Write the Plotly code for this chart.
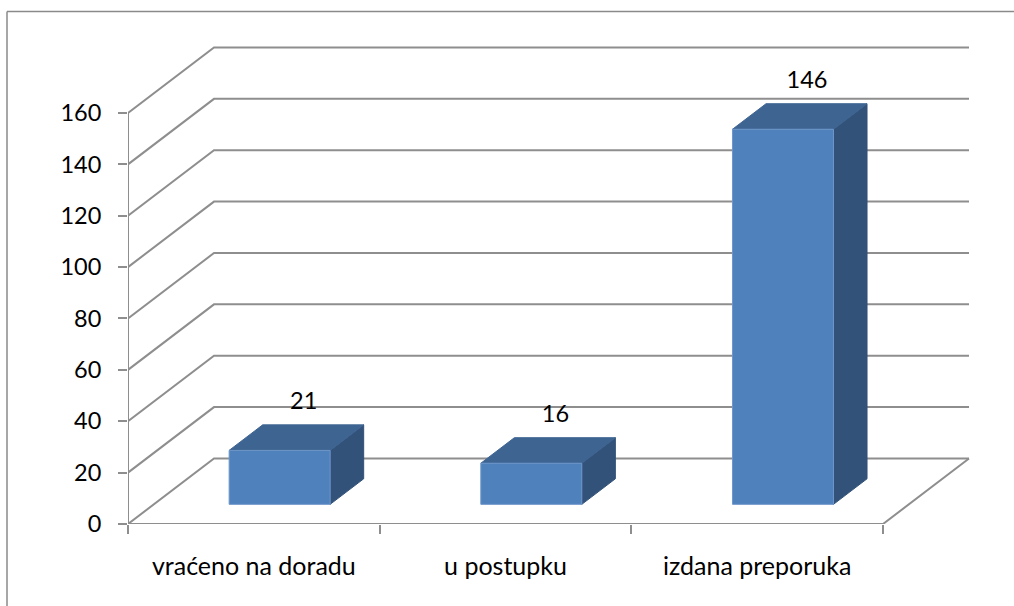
import plotly.graph_objects as go

categories = ["vraćeno na doradu", "u postupku", "izdana preporuka"]
values = [21, 16, 146]
y_ticks = [0, 20, 40, 60, 80, 100, 120, 140, 160]

FONT = "Lato"
FONT_SIZE = 23.5
CAT_FONT_SIZE = 25
GRID = "#8e8e8e"
TEXT = "#000000"
FRONT = "#4f81bd"
TOP = "#3e6492"
SIDE = "#325279"

# Pixel geometry of the plotting rectangle
W, H = 1014, 606
LEFT, BOTTOM = 128, 82
PX_CAT = 251.67
PX_UNIT = 2.569
x_max = (W - LEFT) / PX_CAT
y_max = (H - BOTTOM) / PX_UNIT

# Oblique projection: how far the full chart depth shifts a point
DEPTH_X = 86 / PX_CAT
DEPTH_Y = 65.5 / PX_UNIT
BAR_W = 101 / PX_CAT
BAR_NEAR = 0.30
BAR_FAR = 0.69
LABEL_DEPTH = 0.58
LABEL_LIFT = 8.4


def project(x, v, d):
    return x + d * DEPTH_X, v + d * DEPTH_Y


def poly(points, color, edge=None):
    xs = [p[0] for p in points] + [points[0][0]]
    ys = [p[1] for p in points] + [points[0][1]]
    return go.Scatter(x=xs, y=ys, mode="lines", fill="toself", fillcolor=color,
                      line=dict(color=edge or color, width=1), hoverinfo="skip",
                      showlegend=False, cliponaxis=False)


def line(xs, ys, width=2):
    return go.Scatter(x=xs, y=ys, mode="lines", line=dict(color=GRID, width=width),
                      hoverinfo="skip", showlegend=False, cliponaxis=False)


fig = go.Figure()
n = len(categories)

# Gridlines on the side and back walls
for v in y_ticks:
    bx, by = project(0, v, 1)
    fig.add_trace(line([0, bx, n + DEPTH_X], [v, by, by]))

# Floor outline and value axis
fig.add_trace(line([0, n, n + DEPTH_X], [0, 0, DEPTH_Y]))
fig.add_trace(line([0, 0], [0, y_ticks[-1]]))

# Bars
for i, val in enumerate(values):
    x0 = i + 0.5 - BAR_W / 2
    x1 = i + 0.5 + BAR_W / 2
    a0 = project(x0, 0, BAR_NEAR)
    a1 = project(x1, 0, BAR_NEAR)
    b0 = project(x0, val, BAR_NEAR)
    b1 = project(x1, val, BAR_NEAR)
    c0 = project(x0, val, BAR_FAR)
    c1 = project(x1, val, BAR_FAR)
    d1 = project(x1, 0, BAR_FAR)
    fig.add_trace(poly([a1, d1, c1, b1], SIDE))
    fig.add_trace(poly([b0, b1, c1, c0], TOP))
    fig.add_trace(poly([a0, a1, b1, b0], FRONT, "#6f97c9"))
    lx, ly = project(i + 0.5, val, LABEL_DEPTH)
    fig.add_trace(go.Scatter(x=[lx], y=[val + BAR_FAR * DEPTH_Y + LABEL_LIFT], mode="text",
                             text=[str(val)], textposition="middle center",
                             textfont=dict(family=FONT, size=FONT_SIZE, color=TEXT),
                             hoverinfo="skip", showlegend=False, cliponaxis=False))

fig.update_layout(
    width=W, height=H,
    margin=dict(l=LEFT, r=0, t=0, b=BOTTOM, autoexpand=False),
    paper_bgcolor="white", plot_bgcolor="white",
    font=dict(family=FONT, size=FONT_SIZE, color=TEXT),
    showlegend=False,
    xaxis=dict(
        range=[0, x_max], showgrid=False, zeroline=False, showline=False,
        tickmode="array", tickvals=[i + 0.5 for i in range(n)], ticktext=categories,
        ticks="", ticklabelstandoff=25, tickfont=dict(size=CAT_FONT_SIZE),
        minor=dict(tickmode="array", tickvals=list(range(n + 1)), ticks="outside",
                   ticklen=9, tickwidth=2, tickcolor=GRID, showgrid=False),
    ),
    yaxis=dict(
        range=[0, y_max], showgrid=False, zeroline=False, showline=False,
        tickmode="array", tickvals=y_ticks, ticks="outside", ticklen=9, tickwidth=2,
        tickcolor=GRID, ticklabelstandoff=12,
    ),
    shapes=[
        dict(type="line", xref="paper", yref="paper",
             x0=(7 - LEFT) / (W - LEFT), x1=1, y0=(H - BOTTOM - 11.5) / (H - BOTTOM),
             y1=(H - BOTTOM - 11.5) / (H - BOTTOM), line=dict(color="#8a8a8a", width=1.5)),
        dict(type="line", xref="paper", yref="paper",
             x0=(7 - LEFT) / (W - LEFT), x1=(7 - LEFT) / (W - LEFT),
             y0=-BOTTOM / (H - BOTTOM), y1=(H - BOTTOM - 11.5) / (H - BOTTOM),
             line=dict(color="#8a8a8a", width=1.5)),
    ],
)

fig.write_html("out.html", config=dict(displayModeBar=False),
               post_script="document.body.style.margin='0';")
